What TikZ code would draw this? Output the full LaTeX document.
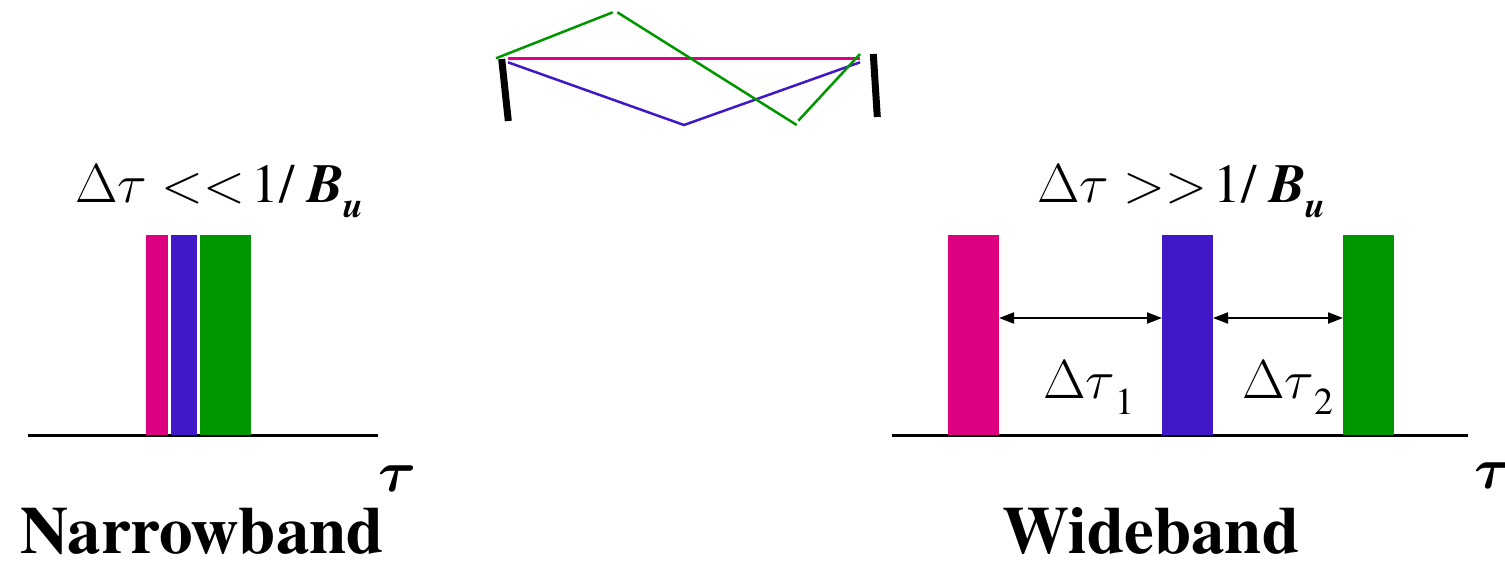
\RequirePackage{fix-cm}
\documentclass[tikz,border=0pt]{standalone}
\usepackage{fontspec}
\setmainfont{texgyretermes}[Extension=.otf,UprightFont=*-regular,BoldFont=*-bold,ItalicFont=*-italic,BoldItalicFont=*-bolditalic]
\usetikzlibrary{positioning,arrows.meta,calc}
\definecolor{pm}{RGB}{220,0,128}
\definecolor{pb}{RGB}{64,24,200}
\definecolor{pg}{RGB}{0,150,0}
\tikzset{bar/.style={inner sep=0,outer sep=0,minimum height=200pt,anchor=south west},
  lbl/.style={inner sep=0,anchor=base west,font=\fontsize{55}{60}\selectfont},
  ttl/.style={inner sep=0,anchor=base west,font=\fontsize{67}{70}\selectfont\bfseries},
  ray/.style={line width=2.5pt},
  gap/.style={{Triangle[length=15pt,width=11pt]}-{Triangle[length=15pt,width=11pt]},line width=2pt}}
\newcommand{\dtau}{$\Delta\tau$}
\newcommand{\bwu}{\textbf{\textit{B}}\raisebox{-15pt}{\fontsize{36}{40}\selectfont\bfseries\itshape u}}
\newcommand{\sub}[1]{\raisebox{-16pt}{\fontsize{38}{40}\selectfont #1}}

\begin{document}
\begin{tikzpicture}[x=1pt,y=-1pt]
  \useasboundingbox (0,0) rectangle (1505,560);
  % mirrors and rays
  \coordinate (ml1) at (501.7,59);\coordinate (ml2) at (508.3,121);
  \coordinate (mr1) at (873.3,54);\coordinate (mr2) at (877.3,117);
  \draw[line width=7pt] (ml1)--(ml2);
  \draw[line width=7pt] (mr1)--(mr2);
  \draw[ray,pm] (508,58.3)--(860,58.3);
  \draw[ray,pb] (508,62.3)--(684,125)--(860,62.3);
  \draw[ray,pg] (496,58.3)--(612.7,12.3) (617.3,12.3)--(796.7,125) (798.3,120.7)--(860,54);
  % narrowband
  \draw[line width=3pt] (28,435)--(378,435);
  \node[bar,fill=pm,minimum width=22pt] (nm) at (146,435) {};
  \node[bar,fill=pb,minimum width=26pt] (nb) at (171,435) {};
  \node[bar,fill=pg,minimum width=51pt] (ng) at (200,435) {};
  \node[lbl] (cn) at (75,202) {\dtau\hspace{14pt}${<}{<}$\hspace{7pt}1/\hspace{12pt}\bwu};
  \node[ttl,font=\fontsize{58}{70}\selectfont\boldmath] (tn) at (378,491) {$\tau$};
  \node[ttl] (nn) at (20,553) {Narrowband};
  % wideband
  \draw[line width=3pt] (892,435)--(1468,435);
  \node[bar,fill=pm,minimum width=51pt] (wm) at (948,435) {};
  \node[bar,fill=pb,minimum width=51pt] (wb) at (1162,435) {};
  \node[bar,fill=pg,minimum width=51pt] (wg) at (1343,435) {};
  \coordinate (ay) at (0,318);
  \draw[gap] (wm.east |- ay)--(wb.west |- ay);
  \draw[gap] (wb.east |- ay)--(wg.west |- ay);
  \node[lbl] (cw) at (1037,202) {\dtau\hspace{14pt}${>}{>}$\hspace{7pt}1/\hspace{12pt}\bwu};
  \node[lbl] (d1) at (1043,398) {\dtau\sub{1}};
  \node[lbl] (d2) at (1242,398) {\dtau\sub{2}};
  \node[ttl,font=\fontsize{58}{70}\selectfont\boldmath] (tw) at (1474,488) {$\tau$};
  \node[ttl] (wn) at (1002,553) {Wideband};
\end{tikzpicture}
\end{document}
